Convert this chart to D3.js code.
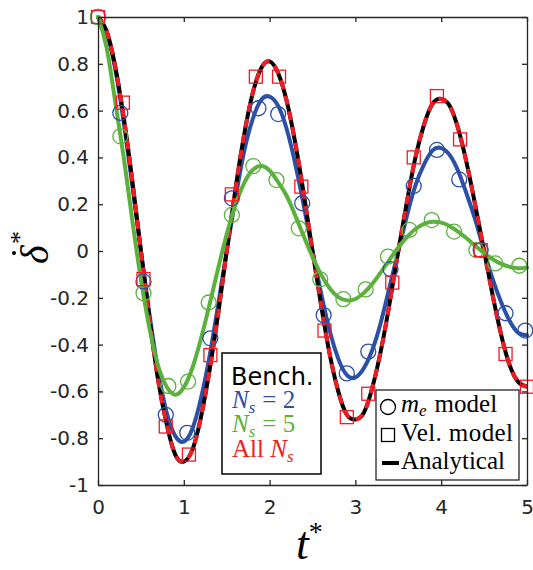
<!DOCTYPE html>
<html>
<head>
<meta charset="utf-8">
<script src="https://cdn.jsdelivr.net/npm/d3@7"></script>
<style>
  body { margin: 0; background: #fff; }
</style>
</head>
<body>
<div class="container"></div>
<script>
const w = 533, h = 570;
const margin = { top: 17, bottom: 85, left: 98, right: 6 };

// time grid for the continuous curves
const tCurve = [0, 0.1, 0.2, 0.3, 0.4, 0.5, 0.6, 0.7, 0.8, 0.9, 1.0, 1.1, 1.2, 1.3, 1.4, 1.5, 1.6, 1.7, 1.8, 1.9,
  2.0, 2.1, 2.2, 2.3, 2.4, 2.5, 2.6, 2.7, 2.8, 2.9, 3.0, 3.1, 3.2, 3.3, 3.4, 3.5, 3.6, 3.7, 3.8, 3.9,
  4.0, 4.1, 4.2, 4.3, 4.4, 4.5, 4.6, 4.7, 4.8, 4.9, 5.0];

const analytical = [1.00, 0.94, 0.79, 0.57, 0.30, 0.00, -0.29, -0.55, -0.74, -0.87, -0.90, -0.85, -0.71, -0.51, -0.27, 0.00, 0.26, 0.49, 0.67, 0.78,
  0.81, 0.76, 0.64, 0.46, 0.24, 0.00, -0.23, -0.44, -0.60, -0.70, -0.72, -0.69, -0.58, -0.42, -0.22, 0.00, 0.21, 0.40, 0.54, 0.63,
  0.65, 0.62, 0.52, 0.37, 0.19, 0.00, -0.19, -0.36, -0.49, -0.56, -0.58];

const ns2Line = [1.00, 0.93, 0.78, 0.55, 0.28, 0.00, -0.27, -0.51, -0.69, -0.79, -0.815, -0.76, -0.63, -0.45, -0.23, 0.00, 0.22, 0.42, 0.56, 0.645,
  0.66, 0.62, 0.52, 0.37, 0.19, 0.00, -0.18, -0.34, -0.46, -0.53, -0.54, -0.50, -0.42, -0.30, -0.15, 0.00, 0.15, 0.28, 0.37, 0.43,
  0.44, 0.41, 0.34, 0.24, 0.13, 0.00, -0.12, -0.22, -0.30, -0.35, -0.36];

const ns5Line = [1.00, 0.87, 0.64, 0.40, 0.13, -0.12, -0.33, -0.49, -0.58, -0.614, -0.583, -0.50, -0.375, -0.229, -0.075, 0.071, 0.195, 0.288, 0.345, 0.363,
  0.344, 0.294, 0.235, 0.151, 0.061, -0.025, -0.101, -0.159, -0.197, -0.211, -0.205, -0.179, -0.139, -0.089, -0.036, 0.015, 0.059, 0.094, 0.116, 0.125,
  0.121, 0.106, 0.082, 0.053, 0.021, -0.009, -0.035, -0.055, -0.068, -0.074, -0.071];

// markers
const velT = [0, 0.29, 0.53, 0.79, 1.06, 1.31, 1.56, 1.84, 2.11, 2.37, 2.64, 2.90, 3.15, 3.43, 3.68, 3.95, 4.22, 4.46, 4.75, 5.0];
const velV = [1.00, 0.634, -0.12, -0.75, -0.87, -0.445, 0.242, 0.745, 0.745, 0.275, -0.34, -0.71, -0.61, -0.135, 0.40, 0.662, 0.477, 0.004, -0.44, -0.58];

const ns2T = [0, 0.26, 0.53, 0.79, 1.04, 1.31, 1.56, 1.87, 2.10, 2.38, 2.63, 2.90, 3.15, 3.41, 3.68, 3.95, 4.21, 4.46, 4.75, 4.98];
const ns2V = [1.00, 0.59, -0.13, -0.70, -0.777, -0.373, 0.225, 0.61, 0.585, 0.204, -0.274, -0.523, -0.43, -0.078, 0.278, 0.432, 0.306, 0.004, -0.266, -0.34];

const ns5T = [0, 0.26, 0.53, 0.82, 1.05, 1.29, 1.56, 1.81, 2.08, 2.34, 2.59, 2.86, 3.12, 3.38, 3.63, 3.89, 4.15, 4.41, 4.63, 4.91];
const ns5V = [1.00, 0.49, -0.18, -0.577, -0.558, -0.22, 0.154, 0.363, 0.303, 0.097, -0.121, -0.206, -0.164, -0.024, 0.09, 0.132, 0.083, 0.004, -0.053, -0.063];

const xTicks = [0, 1, 2, 3, 4, 5];
const yTicks = [-1, -0.8, -0.6, -0.4, -0.2, 0, 0.2, 0.4, 0.6, 0.8, 1];

const blue = "#2b50a6", green = "#5bb13c", red = "#f01c24", axisCol = "#262626";

const xScale = d3.scaleLinear().domain([0, 5]).range([margin.left, w - margin.right]);
const yScale = d3.scaleLinear().domain([-1, 1]).range([h - margin.bottom, margin.top]);

const svg = d3.select(".container")
  .append("svg")
  .attr("width", w)
  .attr("height", h)
  .attr("viewBox", [0, 0, w, h]);

const line = d3.line()
  .x(d => xScale(d[0]))
  .y(d => yScale(d[1]))
  .curve(d3.curveNatural);

const zip = (a, b) => a.map((v, i) => [v, b[i]]);

// curves
svg.append("path")
  .datum(zip(tCurve, ns2Line))
  .attr("fill", "none").attr("stroke", blue).attr("stroke-width", 4)
  .attr("stroke-linecap", "round")
  .attr("d", line);

svg.append("path")
  .datum(zip(tCurve, analytical))
  .attr("fill", "none").attr("stroke", "#000").attr("stroke-width", 4)
  .attr("d", line);

svg.append("path")
  .datum(zip(tCurve, analytical))
  .attr("fill", "none").attr("stroke", red).attr("stroke-width", 4)
  .attr("stroke-dasharray", "9,7")
  .attr("d", line);

svg.append("path")
  .datum(zip(tCurve, ns5Line))
  .attr("fill", "none").attr("stroke", green).attr("stroke-width", 4)
  .attr("stroke-linecap", "round")
  .attr("d", line);

// circle markers (m_e model)
svg.append("g").selectAll("circle")
  .data(zip(ns2T, ns2V))
  .join("circle")
  .attr("cx", d => xScale(d[0]))
  .attr("cy", d => yScale(d[1]))
  .attr("r", 7.5)
  .attr("fill", "none").attr("stroke", blue).attr("stroke-width", 1.3);

svg.append("g").selectAll("circle")
  .data(zip(ns5T, ns5V))
  .join("circle")
  .attr("cx", d => xScale(d[0]))
  .attr("cy", d => yScale(d[1]))
  .attr("r", 7.5)
  .attr("fill", "none").attr("stroke", green).attr("stroke-width", 1.3);

// square markers (Vel. model)
const sq = 13;
svg.append("g").selectAll("rect")
  .data(zip(velT, velV))
  .join("rect")
  .attr("x", d => xScale(d[0]) - sq / 2)
  .attr("y", d => yScale(d[1]) - sq / 2)
  .attr("width", sq).attr("height", sq)
  .attr("fill", "none").attr("stroke", red).attr("stroke-width", 1.3);

// axes
const fmt = d => String(+d.toFixed(1));

const styleAxis = g => {
  g.select(".domain").attr("stroke", axisCol).attr("stroke-width", 1.3);
  g.selectAll(".tick line").attr("stroke", axisCol).attr("stroke-width", 1.3);
  g.selectAll(".tick text").attr("fill", axisCol)
    .style("font-family", "DejaVu Sans").style("font-size", "20px");
};

svg.append("g")
  .attr("transform", `translate(0, ${h - margin.bottom})`)
  .call(d3.axisBottom(xScale).tickValues(xTicks).tickFormat(fmt).tickSizeInner(-5).tickSizeOuter(0).tickPadding(15))
  .call(styleAxis);

svg.append("g")
  .attr("transform", `translate(0, ${margin.top})`)
  .call(d3.axisTop(xScale).tickValues(xTicks).tickFormat("").tickSizeInner(-5).tickSizeOuter(0))
  .call(styleAxis);

svg.append("g")
  .attr("transform", `translate(${margin.left}, 0)`)
  .call(d3.axisLeft(yScale).tickValues(yTicks).tickFormat(fmt).tickSizeInner(-5).tickSizeOuter(0).tickPadding(9))
  .call(styleAxis);

svg.append("g")
  .attr("transform", `translate(${w - margin.right}, 0)`)
  .call(d3.axisRight(yScale).tickValues(yTicks).tickFormat("").tickSizeInner(-5).tickSizeOuter(0))
  .call(styleAxis);

svg.selectAll(".domain").attr("fill", "none");

// axis labels
const serif = "Liberation Serif";
const xl = svg.append("text")
  .attr("x", 296).attr("y", 559)
  .style("font-family", serif).style("font-style", "italic").style("font-size", "46px")
  .attr("fill", "#000");
xl.append("tspan").text("t");
xl.append("tspan").attr("dy", -18).style("font-style", "normal").style("font-size", "28px").text("*");

const yl = svg.append("g").attr("transform", "translate(48, 262) rotate(-90)");
yl.append("text")
  .attr("x", -2).attr("y", 0)
  .style("font-family", serif).style("font-style", "italic").style("font-size", "40px")
  .attr("fill", "#000").text("δ");
yl.append("circle").attr("cx", 9).attr("cy", -34).attr("r", 2).attr("fill", "#000");
yl.append("text")
  .attr("x", 18).attr("y", -20)
  .style("font-family", serif).style("font-size", "26px")
  .attr("fill", "#000").text("*");

// legend 1
const lg1 = svg.append("g");
lg1.append("rect")
  .attr("x", 222).attr("y", 353).attr("width", 99).attr("height", 121)
  .attr("fill", "#fff").attr("stroke", "#000").attr("stroke-width", 1.5);
lg1.append("text")
  .attr("x", 231).attr("y", 385)
  .style("font-family", "DejaVu Sans").style("font-size", "24px")
  .attr("fill", "#000").text("Bench.");

const nsLabel = (y, color, prefix, suffix) => {
  const t = lg1.append("text")
    .attr("x", 232).attr("y", y)
    .style("font-family", serif).style("font-size", "25px")
    .attr("fill", color);
  if (prefix) t.append("tspan").text(prefix);
  t.append("tspan").style("font-style", "italic").text("N");
  t.append("tspan").style("font-style", "italic").style("font-size", "17px").attr("dy", 5).text("s");
  if (suffix) t.append("tspan").attr("dy", -5).attr("dx", 7).text(suffix);
};
nsLabel(408, blue, null, "= 2");
nsLabel(432, green, null, "= 5");
nsLabel(457, red, "All ", null);

// legend 2
const lg2 = svg.append("g");
lg2.append("rect")
  .attr("x", 376).attr("y", 390).attr("width", 143).attr("height", 90)
  .attr("fill", "#fff").attr("stroke", axisCol).attr("stroke-width", 1.3);
lg2.append("circle")
  .attr("cx", 388).attr("cy", 407).attr("r", 7.5)
  .attr("fill", "none").attr("stroke", "#000").attr("stroke-width", 1.3);
lg2.append("rect")
  .attr("x", 388 - sq / 2).attr("y", 435 - sq / 2).attr("width", sq).attr("height", sq)
  .attr("fill", "none").attr("stroke", "#000").attr("stroke-width", 1.3);
lg2.append("line")
  .attr("x1", 382).attr("x2", 399).attr("y1", 463).attr("y2", 463)
  .attr("stroke", "#000").attr("stroke-width", 4);

const me = lg2.append("text")
  .attr("x", 401).attr("y", 412)
  .style("font-family", serif).style("font-size", "25px").attr("fill", "#000");
me.append("tspan").style("font-style", "italic").text("m");
me.append("tspan").style("font-style", "italic").style("font-size", "17px").attr("dy", 4).text("e");
me.append("tspan").attr("dy", -4).attr("dx", 8).text("model");

lg2.append("text")
  .attr("x", 401).attr("y", 441)
  .style("font-family", serif).style("font-size", "25px").attr("fill", "#000")
  .attr("textLength", 112).attr("lengthAdjust", "spacing")
  .text("Vel. model");

lg2.append("text")
  .attr("x", 401).attr("y", 469)
  .style("font-family", serif).style("font-size", "25px").attr("fill", "#000")
  .attr("textLength", 104).attr("lengthAdjust", "spacing")
  .text("Analytical");
</script>
</body>
</html>
